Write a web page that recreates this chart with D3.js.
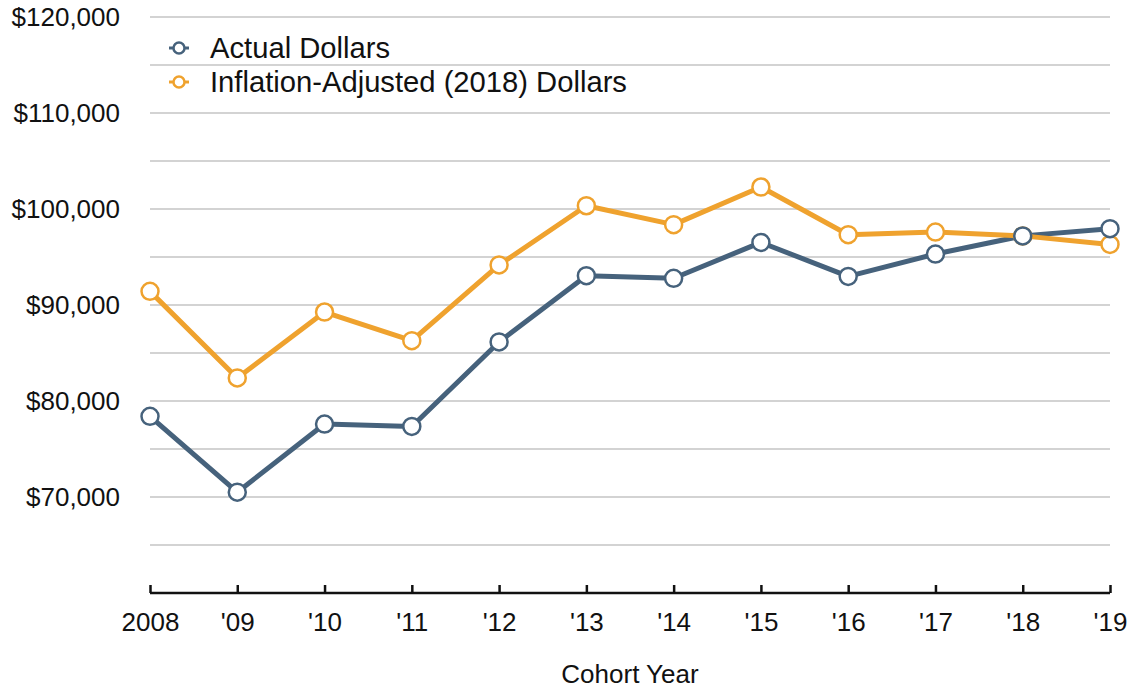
<!DOCTYPE html>
<html>
<head>
<meta charset="utf-8">
<script src="https://cdn.jsdelivr.net/npm/d3@7"></script>
<style>
  body { margin: 0; background: #fff; }
  svg { font-family: "Liberation Sans", Arial, Helvetica, sans-serif; }
</style>
</head>
<body>
<svg width="1131" height="690"></svg>
<script>
var years = ["2008", "'09", "'10", "'11", "'12", "'13", "'14", "'15", "'16", "'17", "'18", "'19"];
var actual = [78400, 70500, 77600, 77350, 86150, 93050, 92780, 96520, 92980, 95310, 97200, 97950];
var adjusted = [91420, 82400, 89270, 86280, 94170, 100340, 98370, 102290, 97320, 97600, 97200, 96310];
var seriesNames = ["Actual Dollars", "Inflation-Adjusted (2018) Dollars"];
var colors = ["#46627c", "#efa22e"];
var yTicks = [70000, 80000, 90000, 100000, 110000, 120000];
var gridValues = [65000, 70000, 75000, 80000, 85000, 90000, 95000, 100000, 105000, 110000, 115000, 120000];

var margin = {top: 17, right: 21, bottom: 97, left: 150};
var width = 1131 - margin.left - margin.right;
var height = 690 - margin.top - margin.bottom;

var svg = d3.select("svg");
var g = svg.append("g").attr("transform", "translate(" + margin.left + "," + margin.top + ")");

var x = d3.scalePoint().domain(years).range([0, width]);
var y = d3.scaleLinear().domain([60000, 120000]).range([height, 0]);

// grid
g.selectAll("line.grid").data(gridValues).enter().append("line")
  .attr("class", "grid")
  .attr("x1", 0).attr("x2", width)
  .attr("y1", function(d) { return y(d); })
  .attr("y2", function(d) { return y(d); })
  .style("stroke", "#c4c4c4")
  .style("stroke-width", 1.5);

// y labels
g.selectAll("text.ylab").data(yTicks).enter().append("text")
  .attr("class", "ylab")
  .attr("x", -30)
  .attr("y", function(d) { return y(d); })
  .attr("dy", "0.35em")
  .style("text-anchor", "end")
  .style("font-size", "26px")
  .style("fill", "#111")
  .text(function(d) { return "$" + d3.format(",")(d); });

// x axis
var xAxis = g.append("g")
  .attr("transform", "translate(0," + height + ")")
  .call(d3.axisBottom(x).tickSize(-8).tickPadding(20));
xAxis.select(".domain").attr("d", "M0,0H" + width).style("stroke", "#111").style("stroke-width", 2.5);
xAxis.selectAll(".tick line").style("stroke", "#111").style("stroke-width", 2.5);
xAxis.selectAll(".tick text")
  .style("font-size", "26px")
  .style("font-family", "'Liberation Sans', Arial, sans-serif")
  .style("fill", "#111");

svg.append("text")
  .attr("x", margin.left + width / 2)
  .attr("y", 683)
  .style("text-anchor", "middle")
  .style("font-size", "26px")
  .style("fill", "#111")
  .text("Cohort Year");

// lines
var line = d3.line()
  .x(function(d, i) { return x(years[i]); })
  .y(function(d) { return y(d); });

[actual, adjusted].forEach(function(data, k) {
  g.append("path")
    .datum(data)
    .attr("d", line)
    .style("fill", "none")
    .style("stroke", colors[k])
    .style("stroke-width", 5)
    .style("stroke-linejoin", "round");
});
[adjusted, actual].forEach(function(data) {
  var k = data === actual ? 0 : 1;
  g.selectAll(null).data(data).enter().append("circle")
    .attr("cx", function(d, i) { return x(years[i]); })
    .attr("cy", function(d) { return y(d); })
    .attr("r", 8.5)
    .style("fill", "#fff")
    .style("stroke", colors[k])
    .style("stroke-width", 2.5);
});

// legend
var legend = svg.append("g").attr("transform", "translate(179,48)");
seriesNames.forEach(function(name, k) {
  var row = legend.append("g").attr("transform", "translate(0," + (k * 34) + ")");
  row.append("line").attr("x1", -10).attr("x2", 10)
    .style("stroke", colors[k]).style("stroke-width", 3);
  row.append("circle").attr("r", 5.5)
    .style("fill", "#fff").style("stroke", colors[k]).style("stroke-width", 2.5);
  row.append("text").attr("x", 31).attr("dy", "0.35em")
    .style("font-size", "29.2px").style("fill", "#111").text(name);
});
</script>
</body>
</html>
